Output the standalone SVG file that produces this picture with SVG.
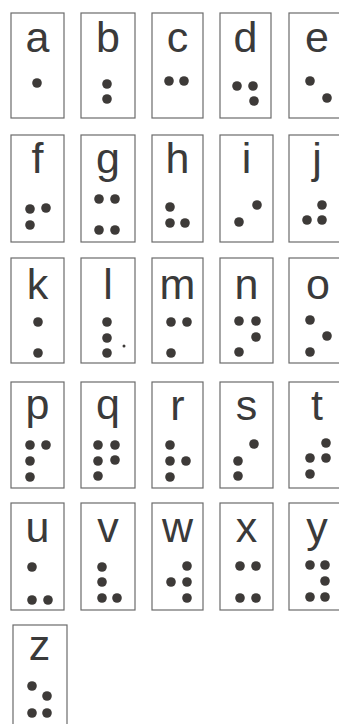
<svg xmlns="http://www.w3.org/2000/svg" width="339" height="724" viewBox="0 0 339 724">
<style>
.box{fill:none;stroke:#6b6b6b;stroke-width:1.2}
.ltr{font-family:"Liberation Sans",Arial,sans-serif;font-size:43px;fill:#3a3a3a;text-anchor:middle}
.d{fill:#3d3a38}
</style>
<rect width="339" height="724" fill="#ffffff"/>
<g id="cell-a"><rect class="box" x="11" y="13" width="53" height="105"/><text class="ltr" x="37.5" y="52">a</text><circle class="d" cx="37" cy="83" r="4.8"/></g>
<g id="cell-b"><rect class="box" x="81" y="13" width="54" height="105"/><text class="ltr" x="108" y="52">b</text><circle class="d" cx="107" cy="84" r="4.8"/><circle class="d" cx="107" cy="99" r="4.8"/></g>
<g id="cell-c"><rect class="box" x="152" y="13" width="51" height="105"/><text class="ltr" x="177.5" y="52">c</text><circle class="d" cx="169" cy="81" r="4.8"/><circle class="d" cx="184" cy="81" r="4.8"/></g>
<g id="cell-d"><rect class="box" x="220" y="13" width="51" height="105"/><text class="ltr" x="245.5" y="52">d</text><circle class="d" cx="237" cy="86" r="4.8"/><circle class="d" cx="253" cy="86" r="4.8"/><circle class="d" cx="254" cy="101" r="4.8"/></g>
<g id="cell-e"><rect class="box" x="289" y="13" width="54" height="105"/><text class="ltr" x="317" y="52">e</text><circle class="d" cx="310" cy="81" r="4.8"/><circle class="d" cx="327" cy="98" r="4.8"/></g>

<g id="cell-f"><rect class="box" x="11" y="135" width="53" height="107"/><text class="ltr" x="37.5" y="173">f</text><circle class="d" cx="30" cy="209" r="4.8"/><circle class="d" cx="46" cy="208" r="4.8"/><circle class="d" cx="30" cy="225" r="4.8"/></g>
<g id="cell-g"><rect class="box" x="81" y="135" width="54" height="107"/><text class="ltr" x="108" y="173">g</text><circle class="d" cx="99" cy="199" r="4.8"/><circle class="d" cx="115" cy="199" r="4.8"/><circle class="d" cx="99" cy="230" r="4.8"/><circle class="d" cx="115" cy="230" r="4.8"/></g>
<g id="cell-h"><rect class="box" x="152" y="135" width="51" height="107"/><text class="ltr" x="177.5" y="173">h</text><circle class="d" cx="170" cy="207" r="4.8"/><circle class="d" cx="170" cy="223" r="4.8"/><circle class="d" cx="185" cy="223" r="4.8"/></g>
<g id="cell-i"><rect class="box" x="220" y="135" width="53" height="107"/><text class="ltr" x="246.5" y="173">i</text><circle class="d" cx="257" cy="205" r="4.8"/><circle class="d" cx="239" cy="222" r="4.8"/></g>
<g id="cell-j"><rect class="box" x="289" y="135" width="54" height="107"/><text class="ltr" x="317" y="173">j</text><circle class="d" cx="322" cy="205" r="4.8"/><circle class="d" cx="307" cy="220" r="4.8"/><circle class="d" cx="322" cy="220" r="4.8"/></g>

<g id="cell-k"><rect class="box" x="11" y="258" width="53" height="105"/><text class="ltr" x="37.5" y="299">k</text><circle class="d" cx="38" cy="322" r="4.8"/><circle class="d" cx="38" cy="353" r="4.8"/></g>
<g id="cell-l"><rect class="box" x="81" y="258" width="54" height="105"/><text class="ltr" x="108" y="299">l</text><circle class="d" cx="107" cy="322" r="4.8"/><circle class="d" cx="107" cy="338" r="4.8"/><circle class="d" cx="107" cy="353" r="4.8"/><circle class="d" cx="124" cy="346" r="1.5"/></g>
<g id="cell-m"><rect class="box" x="152" y="258" width="51" height="105"/><text class="ltr" x="177.5" y="299">m</text><circle class="d" cx="171" cy="322" r="4.8"/><circle class="d" cx="187" cy="322" r="4.8"/><circle class="d" cx="171" cy="353" r="4.8"/></g>
<g id="cell-n"><rect class="box" x="220" y="258" width="53" height="105"/><text class="ltr" x="246.5" y="299">n</text><circle class="d" cx="239" cy="321" r="4.8"/><circle class="d" cx="256" cy="321" r="4.8"/><circle class="d" cx="256" cy="337" r="4.8"/><circle class="d" cx="239" cy="352" r="4.8"/></g>
<g id="cell-o"><rect class="box" x="289" y="258" width="54" height="105"/><text class="ltr" x="318" y="299">o</text><circle class="d" cx="310" cy="320" r="4.8"/><circle class="d" cx="327" cy="336" r="4.8"/><circle class="d" cx="310" cy="352" r="4.8"/></g>

<g id="cell-p"><rect class="box" x="11" y="382" width="53" height="106"/><text class="ltr" x="37.5" y="419">p</text><circle class="d" cx="30" cy="445" r="4.8"/><circle class="d" cx="46" cy="445" r="4.8"/><circle class="d" cx="30" cy="461" r="4.8"/><circle class="d" cx="30" cy="477" r="4.8"/></g>
<g id="cell-q"><rect class="box" x="81" y="382" width="54" height="106"/><text class="ltr" x="108" y="419">q</text><circle class="d" cx="98" cy="445" r="4.8"/><circle class="d" cx="115" cy="445" r="4.8"/><circle class="d" cx="98" cy="461" r="4.8"/><circle class="d" cx="115" cy="460" r="4.8"/><circle class="d" cx="98" cy="476" r="4.8"/></g>
<g id="cell-r"><rect class="box" x="152" y="382" width="51" height="106"/><text class="ltr" x="177.5" y="420">r</text><circle class="d" cx="170" cy="445" r="4.8"/><circle class="d" cx="170" cy="461" r="4.8"/><circle class="d" cx="186" cy="461" r="4.8"/><circle class="d" cx="170" cy="477" r="4.8"/></g>
<g id="cell-s"><rect class="box" x="220" y="382" width="53" height="106"/><text class="ltr" x="246.5" y="420">s</text><circle class="d" cx="254" cy="444" r="4.8"/><circle class="d" cx="238" cy="461" r="4.8"/><circle class="d" cx="238" cy="476" r="4.8"/></g>
<g id="cell-t"><rect class="box" x="289" y="382" width="54" height="106"/><text class="ltr" x="317" y="420">t</text><circle class="d" cx="326" cy="443" r="4.8"/><circle class="d" cx="310" cy="458" r="4.8"/><circle class="d" cx="326" cy="458" r="4.8"/><circle class="d" cx="310" cy="474" r="4.8"/></g>

<g id="cell-u"><rect class="box" x="11" y="503" width="53" height="107"/><text class="ltr" x="37.5" y="542">u</text><circle class="d" cx="32" cy="567" r="4.8"/><circle class="d" cx="32" cy="600" r="4.8"/><circle class="d" cx="48" cy="600" r="4.8"/></g>
<g id="cell-v"><rect class="box" x="81" y="503" width="54" height="107"/><text class="ltr" x="108" y="542">v</text><circle class="d" cx="102" cy="567" r="4.8"/><circle class="d" cx="102" cy="582" r="4.8"/><circle class="d" cx="102" cy="598" r="4.8"/><circle class="d" cx="117" cy="598" r="4.8"/></g>
<g id="cell-w"><rect class="box" x="152" y="503" width="51" height="107"/><text class="ltr" x="177.5" y="542">w</text><circle class="d" cx="187" cy="566" r="4.8"/><circle class="d" cx="171" cy="582" r="4.8"/><circle class="d" cx="187" cy="582" r="4.8"/><circle class="d" cx="187" cy="598" r="4.8"/></g>
<g id="cell-x"><rect class="box" x="220" y="503" width="53" height="107"/><text class="ltr" x="246.5" y="542">x</text><circle class="d" cx="240" cy="566" r="4.8"/><circle class="d" cx="256" cy="566" r="4.8"/><circle class="d" cx="240" cy="598" r="4.8"/><circle class="d" cx="256" cy="598" r="4.8"/></g>
<g id="cell-y"><rect class="box" x="289" y="503" width="54" height="107"/><text class="ltr" x="317" y="542">y</text><circle class="d" cx="310" cy="565" r="4.8"/><circle class="d" cx="325" cy="565" r="4.8"/><circle class="d" cx="325" cy="581" r="4.8"/><circle class="d" cx="310" cy="597" r="4.8"/><circle class="d" cx="325" cy="597" r="4.8"/></g>

<g id="cell-z"><rect class="box" x="13" y="625" width="54" height="110"/><text class="ltr" x="39.5" y="660">z</text><circle class="d" cx="32" cy="686" r="4.8"/><circle class="d" cx="47" cy="696" r="4.8"/><circle class="d" cx="32" cy="713" r="4.8"/><circle class="d" cx="47" cy="713" r="4.8"/></g>
</svg>
